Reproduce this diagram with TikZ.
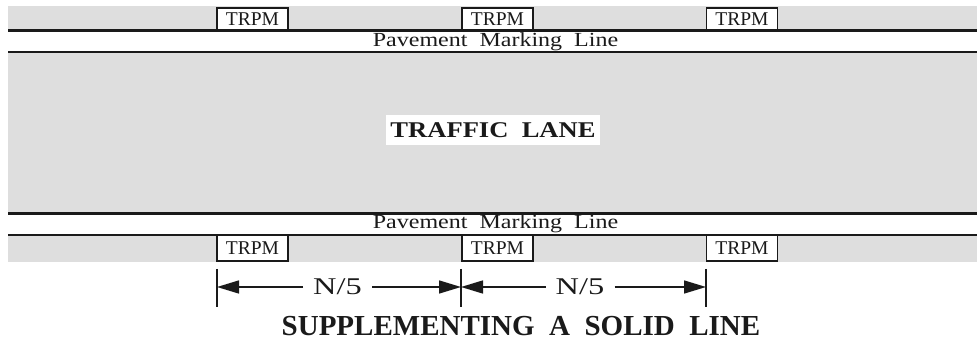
\documentclass[tikz,border=0pt]{standalone}
\usepackage{fontspec}
\setmainfont{Liberation Serif}
\usetikzlibrary{arrows.meta}
\definecolor{lanegray}{HTML}{DEDEDE}
\definecolor{ink}{HTML}{1A1A1A}
\begin{document}
\begin{tikzpicture}[x=1pt,y=-1pt,
  roadline/.style={line width=2.6pt, draw=ink},
  trpm/.style={draw=ink, line width=1.1pt, fill=white, minimum width=71pt,
    inner sep=0pt, font=\fontsize{19.5}{20}\selectfont, text=ink},
  marktext/.style={inner sep=0pt, font=\fontsize{20}{22}\selectfont, text=ink},
  lanetext/.style={fill=white, inner sep=0pt, minimum width=214pt, minimum height=30pt,
    font=\fontsize{22.5}{24}\selectfont\bfseries, text=ink},
  dimtext/.style={inner xsep=10pt, inner ysep=0pt, font=\fontsize{24}{26}\selectfont, text=ink},
  dimarrow/.style={line width=1.5pt, draw=ink, -{Triangle[length=22pt,width=13pt]}},
  tickline/.style={line width=2pt, draw=ink},
  titletext/.style={inner sep=0pt, font=\fontsize{29}{31}\selectfont\bfseries, text=ink}]
\useasboundingbox (0,0) rectangle (977,347);
% gray bands
\fill[lanegray] (8,6) rectangle (977,30.5);
\fill[lanegray] (8,52) rectangle (977,213.5);
\fill[lanegray] (8,235) rectangle (977,262);
% TRPM markers
\node[trpm, minimum height=23pt] (t1) at (252.5,19.5) {TRPM};
\node[trpm, minimum height=23pt] (t2) at (497.5,19.5) {TRPM};
\node[trpm, minimum height=23pt] (t3) at (742,19.5) {TRPM};
\node[trpm, minimum height=26pt] (b1) at (252.5,248) {TRPM};
\node[trpm, minimum height=26pt] (b2) at (497.5,248) {TRPM};
\node[trpm, minimum height=26pt] (b3) at (742,248) {TRPM};
% pavement marking lines
\draw[roadline] (8,30.5) -- (977,30.5);
\draw[roadline] (8,52) -- (977,52);
\draw[roadline] (8,213.5) -- (977,213.5);
\draw[roadline] (8,235) -- (977,235);
\node[marktext] (m1) at (495.5,42) {\scalebox{1.2}[1]{Pavement\ \ Marking\ \ Line}};
\node[marktext] (m2) at (495.5,224) {\scalebox{1.2}[1]{Pavement\ \ Marking\ \ Line}};
% traffic lane
\node[lanetext] (lane) at (493,130) {\scalebox{1.18}[1]{TRAFFIC\ \ LANE}};
% dimensions
\coordinate (k1) at (217,287);
\coordinate (k2) at (461,287);
\coordinate (k3) at (706,287);
\draw[tickline] (217,269) -- (217,307);
\draw[tickline] (461,269) -- (461,307);
\draw[tickline] (706,269) -- (706,307);
\node[dimtext] (n1) at (337.5,287) {\scalebox{1.35}[1]{N/5}};
\node[dimtext] (n2) at (580,287) {\scalebox{1.35}[1]{N/5}};
\draw[dimarrow] (n1.west) -- (k1);
\draw[dimarrow] (n1.east) -- (k2);
\draw[dimarrow] (n2.west) -- (k2);
\draw[dimarrow] (n2.east) -- (k3);
% title
\node[titletext] (title) at (521,326) {SUPPLEMENTING\ \ A\ \ SOLID\ \ LINE};
\end{tikzpicture}
\end{document}
